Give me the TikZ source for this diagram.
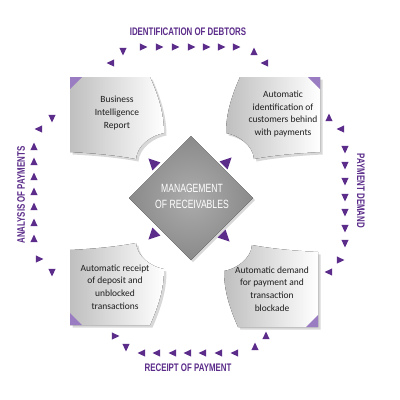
\documentclass[tikz,border=0pt]{standalone}
\usepackage{fontspec}
\setmainfont{Carlito}
\newfontfamily\labfont[FakeStretch=0.72]{Liberation Sans}
\newfontfamily\ctrfont[FakeStretch=0.72]{Liberation Sans}
\usetikzlibrary{shadows}
\definecolor{pur}{HTML}{5B2C8A}
\definecolor{foldc}{HTML}{9A7CC2}
\definecolor{dmdout}{RGB}{138,138,138}
\definecolor{dmdin}{RGB}{172,172,172}
\definecolor{txt}{HTML}{1E1E1E}
\newcommand\tri[3]{\fill[pur, shift={(#1,#2)}, rotate=#3] (4.3,0) -- (-3.2,3.7) -- (-3.2,-3.7) -- cycle;}
\newcommand\bigtri[3]{\fill[pur, shift={(#1,#2)}, rotate=#3] (6.5,0) -- (-4.8,5.6) -- (-4.8,-5.6) -- cycle;}
\newcommand\cardpath{(0,0) -- (80,0) .. controls (88,18) and (94,36) .. (94,56) .. controls (82,58) and (67,68) .. (66,82) .. controls (45,78) and (20,76) .. (0,75) -- cycle}
\tikzset{
  card/.style={left color=gray!50, right color=white, draw=none,
    drop shadow={opacity=0.3, shadow xshift=2.5bp, shadow yshift=-2.5bp}},
  foldtri/.style={fill=foldc},
  cardtext/.style={align=center, text=txt, font=\fontsize{9.5}{12.7}\selectfont},
  ringlabel/.style={text=pur, font=\labfont\bfseries\fontsize{11}{13}\selectfont, inner sep=0pt},
  ctrtext/.style={align=center, text=white, font=\ctrfont\fontsize{12}{16}\selectfont}
}
\begin{document}
\begin{tikzpicture}[x=1bp, y=-1bp]
\useasboundingbox (0,0) rectangle (400,400);
\fill[white] (0,0) rectangle (400,400);
% central diamond
\fill[inner color=dmdin, outer color=dmdout, drop shadow={opacity=0.3, shadow xshift=2bp, shadow yshift=-2bp}]
  (191,136) -- (253,198) -- (191,260) -- (129,198) -- cycle;
\node[ctrtext] (ctr) at (192,196) {MANAGEMENT\\OF RECEIVABLES};
% cards
\begin{scope}[shift={(70,77)}]
  \fill[card] \cardpath;
  \fill[foldtri] (0,0) -- (12,0) -- (0,12) -- cycle;
\end{scope}
\begin{scope}[shift={(320,77)}, xscale=-1]
  \fill[card] \cardpath;
  \fill[foldtri] (0,0) -- (12,0) -- (0,12) -- cycle;
\end{scope}
\begin{scope}[shift={(70,325)}, yscale=-1]
  \fill[card] \cardpath;
  \fill[foldtri] (0,0) -- (12,0) -- (0,12) -- cycle;
\end{scope}
\begin{scope}[shift={(318,327)}, xscale=-1, yscale=-1]
  \fill[card] \cardpath;
  \fill[foldtri] (0,0) -- (12,0) -- (0,12) -- cycle;
\end{scope}
\node[cardtext] (bi) at (117,113) {Business\\Intelligence\\Report};
\node[cardtext] (aic) at (283,114) {Automatic\\identification of\\customers behind\\with payments};
\node[cardtext] (ard) at (115,287) {Automatic receipt\\of deposit and\\unblocked\\transactions};
\node[cardtext] (adp) at (272,289) {Automatic demand\\for payment and\\transaction\\blockade};
% ring labels
\node[ringlabel] (lt) at (188,32) {IDENTIFICATION OF DEBTORS};
\node[ringlabel] (lb) at (188,368) {RECEIPT OF PAYMENT};
\node[ringlabel, rotate=90] (ll) at (21,195) {ANALYSIS OF PAYMENTS};
\node[ringlabel, rotate=-90] (lr) at (361,191) {PAYMENT DEMAND};
% top row
\foreach \x in {143,159,175,191,206,221,236} {\tri{\x}{47}{0}}
% right column
\foreach \y in {149,165,181,197,212,228,243} {\tri{345}{\y}{270}}
% bottom row
\foreach \x in {142,157,173,188,203,219,235} {\tri{\x}{353}{180}}
% left column
\foreach \y in {147,162,177,192,207,223,239} {\tri{34}{\y}{90}}
% corners
\tri{123}{51}{270} \tri{111}{63}{180} \tri{52}{118}{270} \tri{39}{129}{180}
\tri{254}{52}{90} \tri{265}{63}{180} \tri{329}{118}{90} \tri{341}{129}{180}
\tri{39}{259}{0} \tri{52}{272}{270} \tri{115}{336}{0} \tri{126}{347}{270}
\tri{340}{260}{0} \tri{329}{272}{180} \tri{266}{336}{90} \tri{255}{347}{90}
% inner triangles
\bigtri{153}{163}{135} \bigtri{227}{162}{45} \bigtri{153}{235}{225} \bigtri{225}{237}{315}
\end{tikzpicture}
\end{document}
